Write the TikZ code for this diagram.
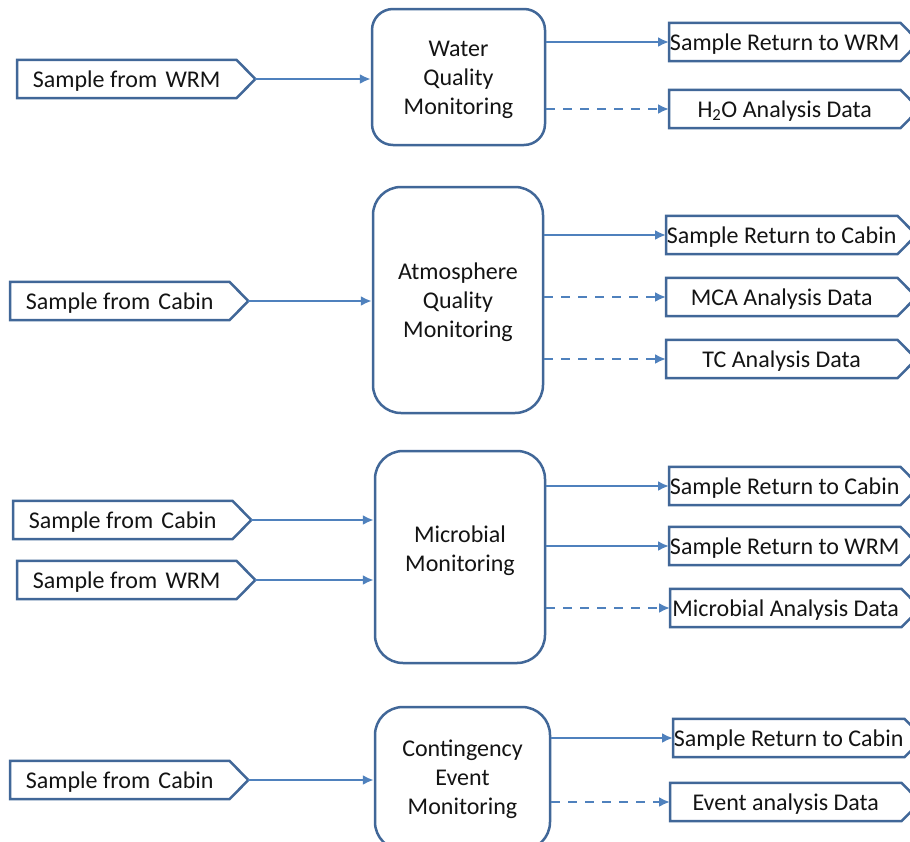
\documentclass[tikz,border=0pt]{standalone}
\usepackage{fontspec}
\setmainfont{Carlito}
\usetikzlibrary{arrows.meta}
\definecolor{boxc}{RGB}{65,103,152}
\definecolor{arrc}{RGB}{79,129,189}
\definecolor{txtc}{RGB}{20,20,20}
\newcommand\myfs{\fontsize{24pt}{29pt}\selectfont}
\newcommand\gapsp{\hspace{0.12em} }
\newcommand\tagoutline[1]{%
  \draw[tagline] (#1.north west) -- (#1.north east) -- ([xshift=19pt]#1.east) -- (#1.south east) -- (#1.south west) -- cycle;
  \coordinate (#1-tip) at ([xshift=19pt]#1.east);}
\tikzset{
  procbox/.style={draw=boxc, line width=2.5pt, fill=white, inner sep=0pt},
  boxtext/.style={font=\myfs, text=txtc, align=center, inner sep=0pt},
  tagbase/.style={anchor=west, minimum height=38pt, inner sep=0pt, text height=18pt, text depth=2pt, font=\myfs, text=txtc},
  intag/.style={tagbase, minimum width=219pt},
  outtag/.style={tagbase, minimum width=231pt},
  tagline/.style={draw=boxc, line width=2.5pt, line join=miter},
  flow/.style={draw=arrc, line width=2.4pt, -{Latex[length=11pt,width=10pt]}},
  dflow/.style={flow, dash pattern=on 9pt off 8pt},
}
\begin{document}
\begin{tikzpicture}[x=1pt,y=-1pt]
\useasboundingbox (0,0) rectangle (910,841);
\fill[white] (0,0) rectangle (910,841);

% ---------- Water Quality Monitoring ----------
\node[procbox, minimum width=173pt, minimum height=136pt, rounded corners=21pt] (b1) at (458.5,77) {};
\node[boxtext] (b1t) at (458.5,80) {Water\\Quality\\Monitoring};
\node[intag] (i1) at (17,79) {Sample from\gapsp WRM};
\tagoutline{i1}
\node[outtag] (o1) at (669,42) {Sample Return to WRM};
\tagoutline{o1}
\node[outtag] (o2) at (669,109) {H\textsubscript{2}O Analysis Data};
\tagoutline{o2}
\draw[flow] (i1-tip) -- (b1.west |- i1-tip);
\draw[flow] (b1.east |- o1.west) -- (o1.west);
\draw[dflow] (b1.east |- o2.west) -- (o2.west);

% ---------- Atmosphere Quality Monitoring ----------
\node[procbox, minimum width=170pt, minimum height=226pt, rounded corners=28pt] (b2) at (458,300) {};
\node[boxtext] (b2t) at (458,302) {Atmosphere\\Quality\\Monitoring};
\node[intag] (i2) at (10,301) {Sample from\gapsp Cabin};
\tagoutline{i2}
\node[outtag] (o3) at (666,235) {Sample Return to Cabin};
\tagoutline{o3}
\node[outtag] (o4) at (666,297) {MCA Analysis Data};
\tagoutline{o4}
\node[outtag] (o5) at (666,359) {TC Analysis Data};
\tagoutline{o5}
\draw[flow] (i2-tip) -- (b2.west |- i2-tip);
\draw[flow] (b2.east |- o3.west) -- (o3.west);
\draw[dflow] (b2.east |- o4.west) -- (o4.west);
\draw[dflow] (b2.east |- o5.west) -- (o5.west);

% ---------- Microbial Monitoring ----------
\node[procbox, minimum width=170pt, minimum height=212pt, rounded corners=28pt] (b3) at (460,557) {};
\node[boxtext] (b3t) at (460,551) {Microbial\\Monitoring};
\node[intag] (i3) at (13,520) {Sample from\gapsp Cabin};
\tagoutline{i3}
\node[intag] (i4) at (17,580) {Sample from\gapsp WRM};
\tagoutline{i4}
\node[outtag] (o6) at (669,486) {Sample Return to Cabin};
\tagoutline{o6}
\node[outtag] (o7) at (669,546) {Sample Return to WRM};
\tagoutline{o7}
\node[outtag] (o8) at (670,608) {Microbial Analysis Data};
\tagoutline{o8}
\draw[flow] (i3-tip) -- (b3.west |- i3-tip);
\draw[flow] (i4-tip) -- (b3.west |- i4-tip);
\draw[flow] (b3.east |- o6.west) -- (o6.west);
\draw[flow] (b3.east |- o7.west) -- (o7.west);
\draw[dflow] (b3.east |- o8.west) -- (o8.west);

% ---------- Contingency Event Monitoring ----------
\node[procbox, minimum width=175pt, minimum height=143pt, rounded corners=28pt] (b4) at (462.5,778.5) {};
\node[boxtext] (b4t) at (462.5,779) {Contingency\\Event\\Monitoring};
\node[intag] (i5) at (10,780) {Sample from\gapsp Cabin};
\tagoutline{i5}
\node[outtag] (o9) at (673,738) {Sample Return to Cabin};
\tagoutline{o9}
\node[outtag] (o10) at (670,802) {Event analysis Data};
\tagoutline{o10}
\draw[flow] (i5-tip) -- (b4.west |- i5-tip);
\draw[flow] (b4.east |- o9.west) -- (o9.west);
\draw[dflow] (b4.east |- o10.west) -- (o10.west);
\end{tikzpicture}
\end{document}
